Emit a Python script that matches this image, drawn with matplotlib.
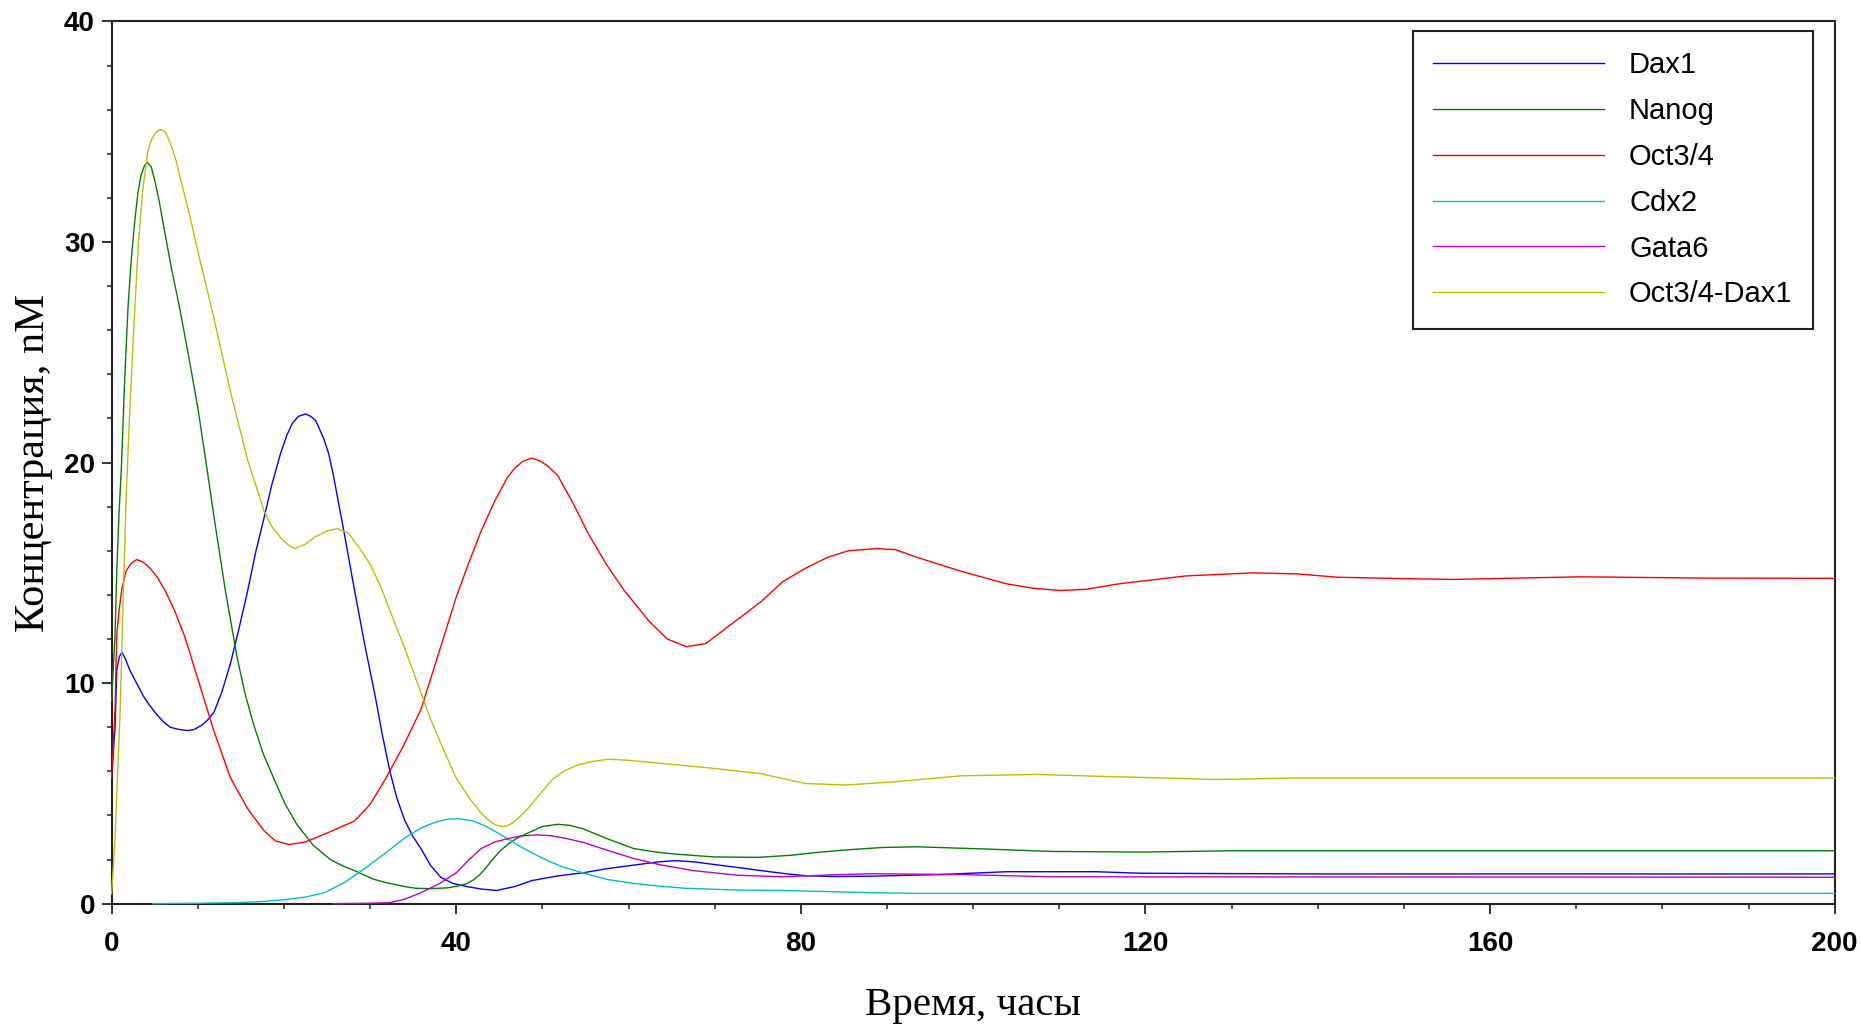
import matplotlib
matplotlib.use("Agg")
import matplotlib.pyplot as plt
from matplotlib.ticker import MultipleLocator

# ---------------- data ----------------
labels = ["Dax1", "Nanog", "Oct3/4", "Cdx2", "Gata6", "Oct3/4-Dax1"]
colors = ["#0000ff", "#008000", "#ff0000", "#00bfbf", "#bf00bf", "#bfbf00"]

t_dax1 = [0, 0.4, 0.6, 0.9, 1.2, 1.6, 2.1, 2.9, 3.7, 4.4, 5.2, 6.0, 6.8, 7.8, 8.8, 9.6,
          10.5, 11.2, 11.9, 12.8, 13.8, 14.8, 15.8, 16.7, 17.7, 18.6, 19.6, 20.3, 21.0,
          21.7, 22.5, 23.1, 23.7, 24.6, 25.2, 25.8, 27.0, 28.2, 29.4, 30.6, 31.4, 32.3,
          33.1, 34.0, 34.9, 35.9, 37.0, 38.2, 39.6, 41.2, 43.0, 44.7, 46.8, 48.8, 51.8,
          54.7, 57.7, 60.6, 63.6, 65.4, 67.5, 69.5, 72.5, 75.4, 78, 80.5, 84, 88.3, 96.1,
          103.9, 114.3, 119.5, 140, 200]
y_dax1 = [5.7, 8.0, 10.6, 11.2, 11.4, 11.1, 10.6, 10.0, 9.4, 9.0, 8.6, 8.25, 8.0, 7.9, 7.85, 7.9,
          8.1, 8.35, 8.7, 9.6, 10.9, 12.5, 14.2, 15.9, 17.5, 19.0, 20.4, 21.2, 21.8,
          22.1, 22.2, 22.1, 21.9, 21.1, 20.4, 19.3, 16.8, 14.2, 11.7, 9.4, 7.7, 6.0,
          4.8, 3.8, 3.1, 2.5, 1.75, 1.2, 0.92, 0.78, 0.66, 0.6, 0.78, 1.05, 1.26,
          1.4, 1.6, 1.75, 1.9, 1.95, 1.9, 1.8, 1.65, 1.5, 1.37, 1.27, 1.23, 1.25, 1.32,
          1.45, 1.45, 1.38, 1.35, 1.35]

t_nanog = [0, 0.4, 0.6, 0.85, 1.15, 1.5, 1.9, 2.3, 2.7, 3.05, 3.4, 3.8, 4.15, 4.6, 5.0,
           5.5, 6.0, 6.9, 7.9, 9.0, 10, 11.0, 11.9, 13.2, 14.6, 15.5, 16.5, 17.6, 18.8,
           20.1, 21.5, 23.4, 25.4, 26.8, 28.2, 29.4, 30.5, 31.7, 32.9, 34.1, 35.3, 37,
           39, 40.2, 41.2, 42.0, 42.7, 43.4, 44.1, 45.0, 46, 47.2, 48.3, 50, 51.8, 53.2,
           54.7, 57.5, 60.6, 63, 65.4, 70, 75, 79, 82, 85.7, 89.5, 93.5, 101.3, 109.1,
           119.5, 129.9, 200]
y_nanog = [9.2, 12.2, 15.1, 17.6, 19.9, 23.6, 27.0, 29.3, 31.0, 32.2, 33.0, 33.45, 33.6, 33.4, 32.8,
           31.9, 30.8, 28.9, 27.0, 24.7, 22.5, 19.9, 17.5, 14.2, 11.1, 9.5, 8.1, 6.8, 5.7,
           4.55, 3.6, 2.65, 2.0, 1.72, 1.5, 1.28, 1.1, 0.97, 0.87, 0.77, 0.7, 0.68,
           0.72, 0.8, 0.9, 1.08, 1.3, 1.6, 1.95, 2.35, 2.7, 3.0, 3.2, 3.5, 3.6, 3.55,
           3.4, 2.95, 2.5, 2.35, 2.25, 2.12, 2.1, 2.2, 2.33, 2.45, 2.55, 2.58, 2.48, 2.37,
           2.34, 2.4, 2.4]

t_oct = [0, 0.4, 0.6, 0.9, 1.2, 1.7, 2.3, 2.9, 3.6, 4.5, 5.3, 6.2, 7.3, 8.5, 10, 11.9,
         13.8, 15.8, 17.7, 19.0, 20.6, 22.5, 25, 28.2, 30, 31.7, 33.8, 35.9, 38, 40,
         41.5, 42.9, 44.4, 45.9, 46.8, 47.7, 48.7, 49.6, 50.6, 51.8, 53.5, 55.3, 57.4,
         59.5, 62.4, 64.5, 66.7, 69, 72.7, 75.4, 77.9, 80.5, 83.1, 85.5, 88.8, 91, 93.5,
         98.7, 103.9, 107, 110.1, 113, 116.9, 124.7, 132.5, 137.7, 142.3, 148.4, 155.8,
         160.6, 170.5, 185.2, 200]
y_oct = [5.7, 8.8, 12.2, 13.4, 14.3, 15.1, 15.45, 15.6, 15.5, 15.2, 14.8, 14.2, 13.3, 12.1, 10.2, 7.8,
         5.7, 4.3, 3.3, 2.85, 2.68, 2.8, 3.2, 3.75, 4.5, 5.6, 7.1, 8.8, 11.4, 13.9,
         15.5, 16.9, 18.2, 19.3, 19.75, 20.05, 20.2, 20.1, 19.85, 19.4, 18.2, 16.8, 15.4,
         14.2, 12.8, 12.0, 11.65, 11.8, 12.9, 13.7, 14.6, 15.2, 15.7, 16.0, 16.1, 16.05,
         15.7, 15.06, 14.5, 14.3, 14.2, 14.25, 14.5, 14.86, 15.0, 14.95, 14.8, 14.75, 14.7,
         14.74, 14.82, 14.76, 14.75]

t_cdx2 = [4.8, 10, 14.6, 17.5, 20, 22.5, 24.7, 27, 29.4, 31.8, 34.1, 36, 37.6, 39, 40.3,
          42, 43.5, 45.3, 47.1, 48.8, 50.6, 52.5, 54.7, 57.5, 60.6, 63.5, 66.5, 72.4,
          77.9, 83, 88.3, 93.5, 200]
y_cdx2 = [0, 0.02, 0.05, 0.1, 0.18, 0.3, 0.5, 0.95, 1.6, 2.3, 3.0, 3.45, 3.7, 3.83, 3.85,
          3.75, 3.5, 3.1, 2.67, 2.3, 1.95, 1.65, 1.4, 1.1, 0.92, 0.8, 0.7, 0.62,
          0.6, 0.55, 0.5, 0.47, 0.47]

t_gata6 = [25.7, 30, 32.3, 34, 35.9, 38, 40, 41.5, 42.9, 44.5, 45.9, 47.5, 49.4, 51, 53,
           55, 57.7, 60.6, 63.6, 67.5, 72.7, 77.9, 83, 88.3, 98.7, 109.1, 200]
y_gata6 = [0, 0.02, 0.05, 0.2, 0.5, 0.9, 1.4, 2.0, 2.5, 2.8, 2.94, 3.07, 3.12, 3.08, 2.94,
           2.75, 2.4, 2.05, 1.77, 1.5, 1.29, 1.22, 1.3, 1.36, 1.32, 1.22, 1.2]

t_complex = [0, 0.4, 0.6, 1.0, 1.35, 1.7, 2.1, 2.6, 3.1, 3.6, 4.2, 4.6, 5.0, 5.4, 5.8,
             6.3, 6.8, 7.4, 8.1, 9.0, 10, 11.9, 13.8, 15.8, 16.8, 17.7, 18.6, 19.6, 20.4,
             21.2, 22.5, 23.5, 25, 26.2, 27.5, 28.8, 30, 31.2, 33, 34.1, 35.5, 37, 38.5,
             40, 41.5, 42.9, 44, 44.7, 45.3, 45.9, 46.5, 47.4, 48.3, 50, 51.2, 52.7, 54.2,
             55.8, 57.7, 60, 63.6, 69.5, 75.3, 80.5, 85.2, 90.9, 98.7, 107.5, 114.3, 122.1,
             128.3, 137.7, 150, 200]
y_complex = [0.45, 3.0, 5.0, 8.8, 14.0, 18.5, 22.3, 26.3, 29.9, 32.3, 34.1, 34.6, 34.9, 35.05, 35.1,
             34.95, 34.5, 33.8, 32.7, 31.3, 29.6, 26.5, 23.2, 20.1, 18.9, 17.8, 17.1, 16.6, 16.3,
             16.1, 16.3, 16.6, 16.9, 17.0, 16.8, 16.1, 15.4, 14.4, 12.6, 11.5, 10.0, 8.4, 7.0,
             5.7, 4.8, 4.1, 3.7, 3.55, 3.5, 3.53, 3.65, 3.95, 4.3, 5.1, 5.65, 6.05, 6.3,
             6.45, 6.55, 6.5, 6.37, 6.15, 5.9, 5.45, 5.38, 5.53, 5.8, 5.86, 5.78, 5.7,
             5.63, 5.7, 5.7, 5.7]

x_ticks = [0, 40, 80, 120, 160, 200]
y_ticks = [0, 10, 20, 30, 40]
x_label = "Время, часы"
y_label = "Концентрация, nM"

series = [(t_dax1, y_dax1), (t_nanog, y_nanog), (t_oct, y_oct),
          (t_cdx2, y_cdx2), (t_gata6, y_gata6), (t_complex, y_complex)]

# ---------------- figure ----------------
fig = plt.figure(figsize=(18.62, 10.24), dpi=100)
ax = fig.add_axes([0.05994, 0.11748, 0.92540, 0.86162])

for (tt, yy), lab, col in zip(series, labels, colors):
    ax.plot(tt, yy, color=col, lw=1.0, label=lab, clip_on=False, zorder=3)

ax.set_xlim(0, 200)
ax.set_ylim(0, 40)
ax.set_xticks(x_ticks)
ax.set_yticks(y_ticks)
ax.xaxis.set_minor_locator(MultipleLocator(10))
ax.yaxis.set_minor_locator(MultipleLocator(2))

tick_font = dict(family=["Liberation Sans", "DejaVu Sans"], size=20, weight="bold")
ax.set_xticklabels([str(v) for v in x_ticks], **tick_font)
ax.set_yticklabels([str(v) for v in y_ticks], **tick_font)
ax.tick_params(which="major", direction="out", length=7, width=1.3, color="#222222", pad=5)
ax.tick_params(which="minor", direction="out", length=3.5, width=1.1, color="#222222")
ax.tick_params(axis="x", which="major", pad=13)
ax.tick_params(top=False, right=False)

for sp in ax.spines.values():
    sp.set_linewidth(1.5)
    sp.set_color("#222222")

ax.set_xlabel(x_label, family=["Liberation Serif", "DejaVu Serif"], size=29.5)
ax.set_ylabel(y_label, family=["Liberation Serif", "DejaVu Serif"], size=30.5)
ax.xaxis.set_label_coords(0.5, -0.094)
ax.yaxis.set_label_coords(-0.034, 0.5)

leg = ax.legend(loc="upper right", bbox_to_anchor=(0.9874, 0.9891), borderaxespad=0,
                prop=dict(family=["Liberation Sans", "DejaVu Sans"], size=21),
                handlelength=5.86, handletextpad=0.85, labelspacing=0.61,
                borderpad=0.7, fancybox=False, framealpha=1, edgecolor="#222222")
leg.get_frame().set_linewidth(1.5)

fig.savefig("out.png", dpi=100)
